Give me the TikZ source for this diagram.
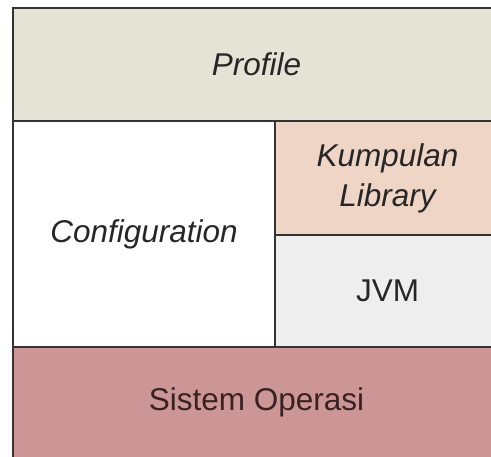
\documentclass[tikz,border=0pt]{standalone}
\usepackage{fontspec}
\setmainfont{Liberation Sans}
\usepackage{tikz}
\definecolor{profilefill}{HTML}{E4E4D6}
\definecolor{libfill}{HTML}{EFD5C6}
\definecolor{jvmfill}{HTML}{EEEEEE}
\definecolor{osfill}{HTML}{CC9696}
\definecolor{edge}{HTML}{333333}
\definecolor{ink}{HTML}{262626}
\definecolor{osink}{HTML}{3A2222}
\tikzset{
  layer/.style={draw=edge, line width=2.2pt, rectangle, inner sep=0pt, outer sep=0pt,
    align=center, text=ink, font=\fontsize{31.5}{40}\selectfont}
}
\newcommand{\slanted}{\itshape}

\begin{document}
\begin{tikzpicture}[x=1pt, y=-1pt]
\useasboundingbox (0,0) rectangle (491,457);
\clip (0,0) rectangle (491,457);
\path (256.5,64.5) node[layer, fill=profilefill, minimum width=487pt, minimum height=113pt] (profile) {\slanted Profile};
\path (144,234) node[layer, fill=white, minimum width=262pt, minimum height=226pt] (config) {\slanted Configuration};
\path (387.5,178) node[layer, fill=libfill, minimum width=225pt, minimum height=114pt] (lib) {\slanted Kumpulan\\\slanted Library};
\path (387.5,291) node[layer, fill=jvmfill, minimum width=225pt, minimum height=112pt] (jvm) {JVM};
\path (256.5,402.5) node[layer, fill=osfill, minimum width=487pt, minimum height=111pt, text=osink] (os) {Sistem Operasi};
\end{tikzpicture}
\end{document}
